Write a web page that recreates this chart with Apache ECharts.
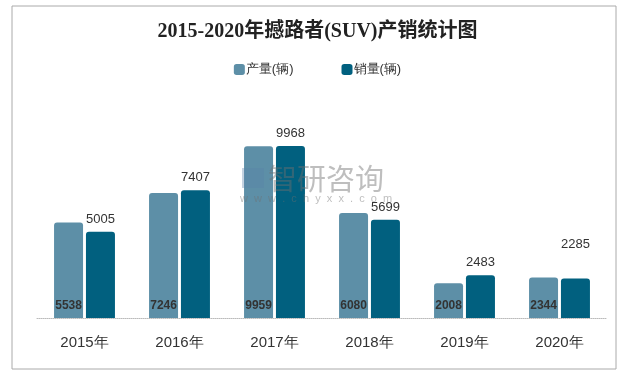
<!DOCTYPE html>
<html>
<head>
<meta charset="utf-8">
<script src="https://cdn.jsdelivr.net/npm/echarts@6/dist/echarts.min.js"></script>
<style>
  html, body { margin: 0; padding: 0; background: #fff; }
  #main { width: 635px; height: 375px; }
</style>
</head>
<body>
<div id="main"></div>
<script>
var years = ['2015年', '2016年', '2017年', '2018年', '2019年', '2020年'];
var production = [5538, 7246, 9959, 6080, 2008, 2344];
var sales = [5005, 7407, 9968, 5699, 2483, 2285];

var chart = echarts.init(document.getElementById('main'));

// 2020年销量的标签在原图里偏高
var salesData = sales.map(function (v, i) {
  if (i === 5) {
    return { value: v, label: { offset: [0, -22] } };
  }
  return v;
});

var option = {
  color: ['#5d8fa7', '#01607f'],
  title: {
    text: '2015-2020年撼路者(SUV)产销统计图',
    left: 'center',
    top: 17,
    textStyle: {
      fontFamily: '"Liberation Serif", "Noto Sans CJK SC"',
      fontSize: 20,
      fontWeight: 'bold',
      color: '#222'
    }
  },
  legend: {
    top: 58,
    left: 'center',
    itemWidth: 11,
    itemHeight: 11,
    itemGap: 48,
    icon: 'roundRect',
    textStyle: {
      fontSize: 13,
      color: '#333',
      padding: [0, 0, 0, -4]
    },
    data: ['产量(辆)', '销量(辆)']
  },
  grid: {
    left: 37,
    right: 28,
    top: 111,
    bottom: 57
  },
  xAxis: {
    type: 'category',
    data: years,
    axisTick: { show: false },
    axisLine: {
      lineStyle: { color: '#bbb', type: 'dotted' }
    },
    axisLabel: {
      fontSize: 15,
      color: '#333',
      margin: 17
    }
  },
  yAxis: {
    type: 'value',
    min: 0,
    max: 12000,
    show: false,
    splitLine: { show: false }
  },
  graphic: [
    {
      type: 'rect',
      shape: { x: 12, y: 6, width: 604, height: 363 },
      style: { fill: 'none', stroke: '#aaa', lineWidth: 1 },
      silent: true,
      z: -10
    },
    {
      type: 'text',
      left: 268,
      top: 164,
      style: {
        text: '智研咨询',
        fontSize: 29,
        fontFamily: '"Noto Sans CJK SC"',
        fill: 'rgba(110,110,110,0.45)'
      },
      z: 100
    },
    {
      type: 'text',
      left: 240,
      top: 193,
      style: {
        text: 'w  w  w  .  c  h  y  x  x  .  c  o  m',
        fontSize: 11,
        fill: 'rgba(110,110,110,0.45)'
      },
      z: 100
    },
    {
      type: 'rect',
      shape: { x: 242, y: 168, width: 22, height: 20 },
      style: { fill: 'rgba(90,130,170,0.35)' },
      z: 100
    }
  ],
  series: [
    {
      name: '产量(辆)',
      type: 'bar',
      data: production,
      barWidth: 29,
      barGap: '10%',
      itemStyle: { borderRadius: [3, 3, 0, 0] },
      label: {
        show: true,
        position: 'insideBottom',
        distance: 6,
        color: '#333',
        fontSize: 12,
        fontWeight: 'bold'
      }
    },
    {
      name: '销量(辆)',
      type: 'bar',
      data: salesData,
      barWidth: 29,
      itemStyle: { borderRadius: [3, 3, 0, 0] },
      label: {
        show: true,
        position: 'top',
        distance: 6,
        color: '#333',
        fontSize: 13
      }
    }
  ]
};

chart.setOption(option);
</script>
</body>
</html>
